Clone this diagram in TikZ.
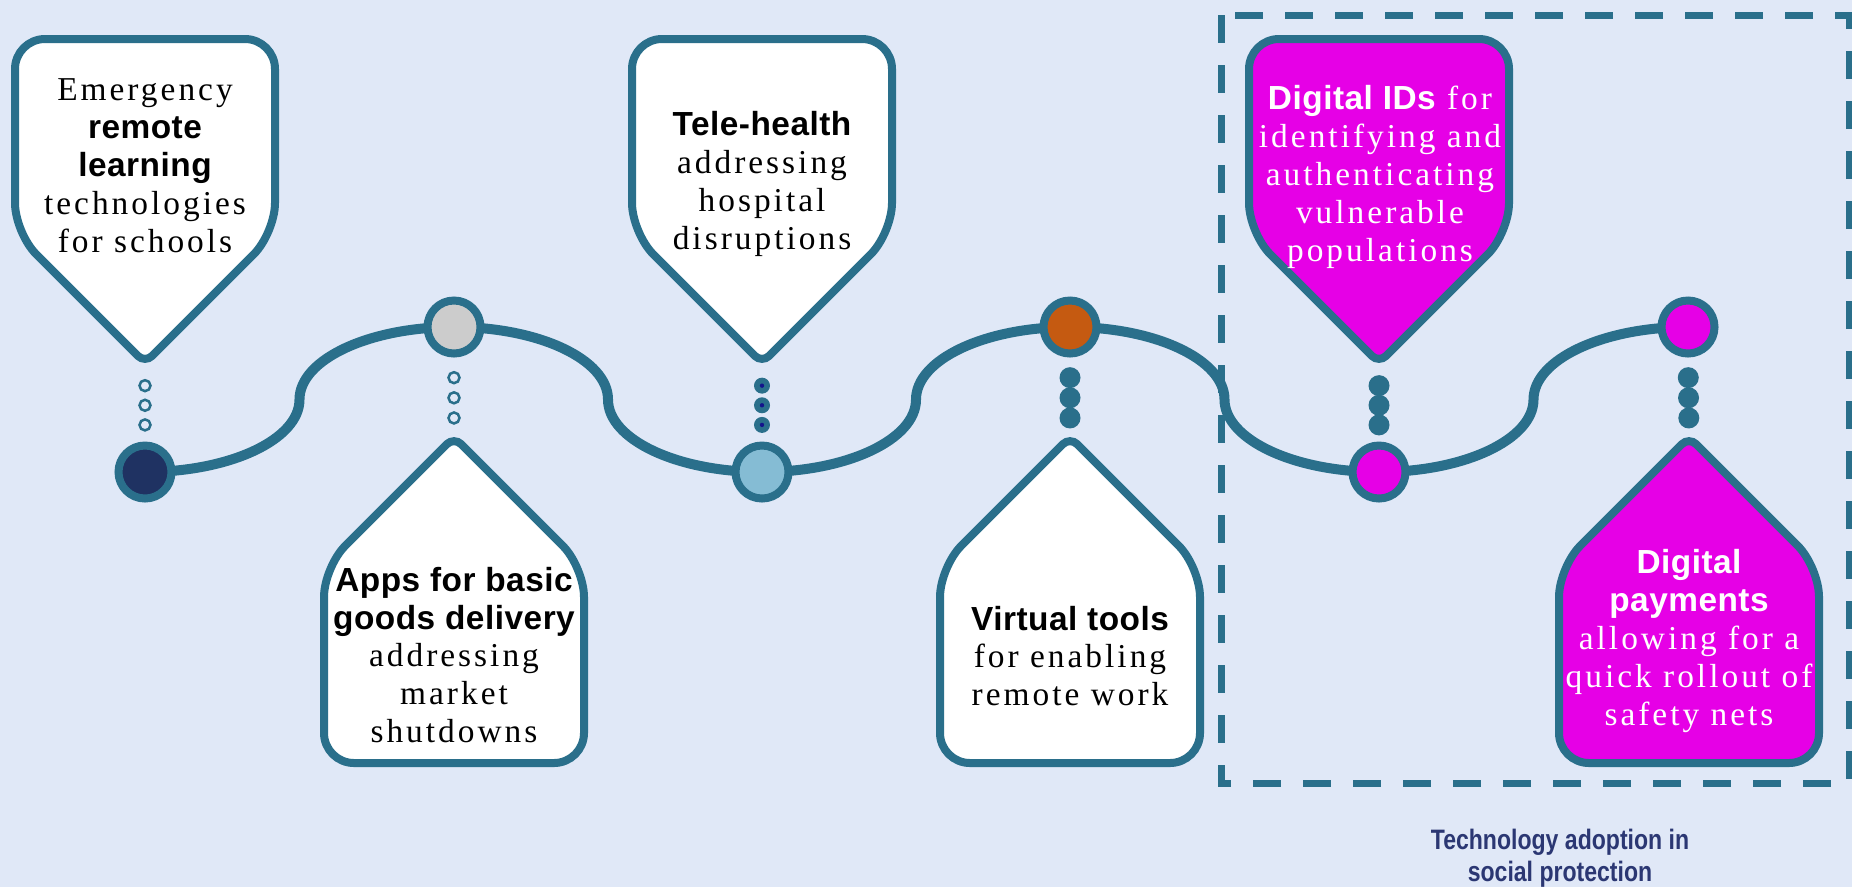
\documentclass[tikz,border=0pt]{standalone}
\usepackage{fontspec}
\setmainfont{Liberation Serif}[LetterSpace=9]
\newfontfamily\headfont{Liberation Sans}[LetterSpace=1.5]
\newfontfamily\capfont{Liberation Sans}[FakeStretch=0.82]
\usetikzlibrary{calc}

\definecolor{bgblue}{RGB}{224,232,247}
\definecolor{lineteal}{RGB}{42,111,139}
\definecolor{navystop}{RGB}{31,50,98}
\definecolor{greystop}{RGB}{204,204,204}
\definecolor{skystop}{RGB}{133,188,212}
\definecolor{ruststop}{RGB}{197,90,17}
\definecolor{pinkfill}{RGB}{230,0,230}
\definecolor{dotnavy}{RGB}{20,20,140}
\definecolor{captionblue}{RGB}{43,55,115}

\tikzset{
  track/.style={draw=lineteal, line width=1mm},
  stop/.style={circle, draw=lineteal, line width=0.8mm, minimum size=5.3mm, inner sep=0pt},
  pin/.style={draw=lineteal, line width=0.8mm, fill=white},
  pinpink/.style={pin, fill=pinkfill},
  pintext/.style={align=center, font=\fontsize{9.5}{10.8}\selectfont},
  hollowdot/.style={draw=lineteal, line width=0.25mm},
  soliddot/.style={fill=lineteal},
}
\newcommand{\hd}[1]{{\headfont\bfseries #1}}

\begin{document}
\begin{tikzpicture}[x=0.1mm, y=-0.1mm]
    % Background
    \fill[bgblue] (0,0) rectangle (1852,887);
    \useasboundingbox (0,0) rectangle (1852,887);

    % Dashed frame for the social protection part
    \draw[lineteal, line width=0.7mm, dash pattern=on 2.8mm off 2.2mm] (1221,15) rectangle (1849,783);

    % Pins above the track
    \draw[pin] (145,39) [rounded corners=3mm] -- (275,39) -- (275,233) [rounded corners=1mm] -- (145,363) [rounded corners=3mm] -- (15,233) -- (15,39) -- cycle;
    \draw[pin] (762,39) [rounded corners=3mm] -- (892,39) -- (892,233) [rounded corners=1mm] -- (762,363) [rounded corners=3mm] -- (632,233) -- (632,39) -- cycle;
    \draw[pinpink] (1379,39) [rounded corners=3mm] -- (1509,39) -- (1509,233) [rounded corners=1mm] -- (1379,363) [rounded corners=3mm] -- (1249,233) -- (1249,39) -- cycle;

    % Pins below the track
    \draw[pin] (454,763) [rounded corners=3mm] -- (324,763) -- (324,567) [rounded corners=1mm] -- (454,437) [rounded corners=3mm] -- (584,567) -- (584,763) -- cycle;
    \draw[pin] (1070,763) [rounded corners=3mm] -- (940,763) -- (940,567) [rounded corners=1mm] -- (1070,437) [rounded corners=3mm] -- (1200,567) -- (1200,763) -- cycle;
    \draw[pinpink] (1689,763) [rounded corners=3mm] -- (1559,763) -- (1559,567) [rounded corners=1mm] -- (1689,437) [rounded corners=3mm] -- (1819,567) -- (1819,763) -- cycle;

    % Pin tips
    \coordinate (tip1) at (145,366);
    \coordinate (tip2) at (454,435);
    \coordinate (tip3) at (762,366);
    \coordinate (tip4) at (1070,435);
    \coordinate (tip5) at (1379,366);
    \coordinate (tip6) at (1689,435);

    % Pin texts
    \node[pintext] (learning) at (145,166) {Emergency\\\hd{remote}\\\hd{learning}\\technologies\\for schools};
    \node[pintext] (delivery) at (454,655) {\hd{Apps for basic}\\\hd{goods delivery}\\addressing\\market\\shutdowns};
    \node[pintext] (health) at (762,184) {\hd{Tele-health}\\addressing\\hospital\\disruptions};
    \node[pintext] (tools) at (1070,656) {\hd{Virtual tools}\\for enabling\\remote work};
    \node[pintext, text=white] (ids) at (1380,177) {\hd{Digital IDs} for\\identifying and\\authenticating\\vulnerable\\populations};
    \node[pintext, text=white] (payments) at (1689,641) {\hd{Digital}\\\hd{payments}\\allowing for a\\quick rollout of\\safety nets};

    % The track
    \coordinate (p1) at (145,472);
    \coordinate (p2) at (454,327);
    \coordinate (p3) at (762,472);
    \coordinate (p4) at (1070,327);
    \coordinate (p5) at (1379,472);
    \coordinate (p6) at (1688,327);
    \foreach \a/\b/\s in {p1/p2/1, p2/p3/-1, p3/p4/1, p4/p5/-1, p5/p6/1}
        \draw[track] (\a) .. controls +(85,0) and +(0,40*\s) .. ($(\a)!.5!(\b)$) .. controls +(0,-40*\s) and +(-85,0) .. (\b);

    % Stops on the track
    \node[stop, fill=navystop] (n1) at (p1) {};
    \node[stop, fill=greystop] (n2) at (p2) {};
    \node[stop, fill=skystop] (n3) at (p3) {};
    \node[stop, fill=ruststop] (n4) at (p4) {};
    \node[stop, fill=pinkfill] (n5) at (p5) {};
    \node[stop, fill=pinkfill] (n6) at (p6) {};

    % Dots from the pins to the stops
    \foreach \t in {0.26,0.52,0.78} {
        \draw[hollowdot] ($(tip1)!\t!(n1.north)$) circle (0.55mm);
        \draw[hollowdot] ($(n2.south)!\t!(tip2)$) circle (0.55mm);
        \fill[soliddot] ($(tip3)!\t!(n3.north)$) circle (0.8mm);
        \fill[dotnavy] ($(tip3)!\t!(n3.north)$) circle (0.22mm);
        \fill[soliddot] ($(n4.south)!\t!(tip4)$) circle (1.05mm);
        \fill[soliddot] ($(tip5)!\t!(n5.north)$) circle (1.05mm);
        \fill[soliddot] ($(n6.south)!\t!(tip6)$) circle (1.05mm);
    }

    % Caption under the frame
    \node[font=\capfont\bfseries\fontsize{8}{9.1}\selectfont, text=captionblue, align=center] (caption) at (1560,858) {Technology adoption in\\social protection};
\end{tikzpicture}
\end{document}
